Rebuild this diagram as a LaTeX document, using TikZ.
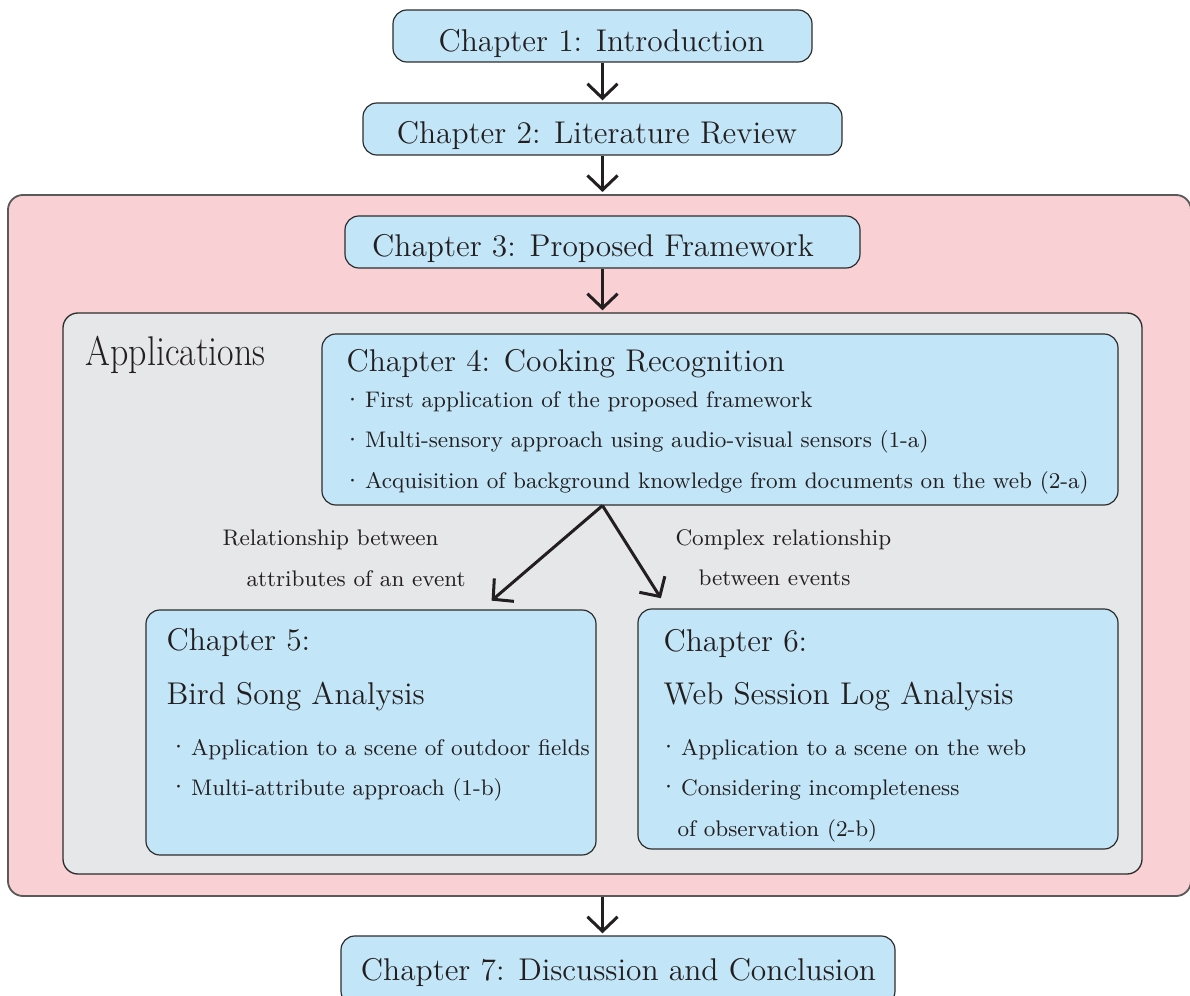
\documentclass[tikz,border=0pt]{standalone}
\usepackage{graphicx}
\usetikzlibrary{arrows.meta}
\definecolor{cbox}{RGB}{194,230,248}
\definecolor{cpink}{RGB}{249,208,211}
\definecolor{cgray}{RGB}{230,231,233}
\definecolor{cline}{RGB}{45,45,45}
\definecolor{cpline}{RGB}{90,90,90}
\definecolor{ctext}{RGB}{35,31,32}
\newcommand\bul{\raisebox{-0.6pt}{\fontsize{11}{11}\selectfont\textperiodcentered}\hspace{0.6pt}}
\begin{document}
\begin{tikzpicture}[x=0.3816pt,y=-0.3816pt,
  wh/.style 2 args={minimum width=#1*0.3816pt,minimum height=#2*0.3816pt},
  chap/.style={draw=cline,line width=0.45pt,fill=cbox,rounded corners=5.3pt,inner sep=0pt},
  ttl/.style={inner sep=0pt,text=ctext,font=\fontsize{12}{14}\selectfont},
  sml/.style={inner sep=0pt,text=ctext,font=\fontsize{8.6}{10}\selectfont},
  arr/.style={draw=ctext,line width=1.15pt,shorten >=0.8pt,-{Straight Barb[length=5.5pt,width=11.5pt]}}]
\useasboundingbox (0,0) rectangle (1190,996);
\clip (0,0) rectangle (1190,996);
% containers
\node[draw=cpline,line width=0.7pt,fill=cpink,rounded corners=5.7pt,inner sep=0pt,wh={1183}{701}] (pink) at (599.5,545.5) {};
\node[draw=cline,line width=0.5pt,fill=cgray,rounded corners=5.7pt,inner sep=0pt,wh={1079}{561}] (gray) at (602.5,593.5) {};
\node[inner sep=0pt,text=ctext,anchor=base west] (apps) at (85,366)
  {\resizebox{68.7pt}{11.2pt}{\fontsize{16.8}{20}\selectfont Applications}};
% chapter boxes
\node[chap,wh={419}{52}] (c1) at (602.5,36) {};
\node[ttl,anchor=base] (t1) at (601.5,52) {Chapter 1: Introduction};
\node[chap,wh={479}{52}] (c2) at (602.5,129) {};
\node[ttl,anchor=base] (t2) at (597,143.5) {Chapter 2: Literature Review};
\node[chap,wh={515}{52}] (c3) at (602.5,242) {};
\node[ttl,anchor=base] (t3) at (593,256.5) {Chapter 3: Proposed Framework};
\node[chap,wh={796}{171}] (c4) at (720,419.5) {};
\node[ttl,anchor=base west] (t4) at (346,371.5) {Chapter 4: Cooking Recognition};
\node[sml,anchor=base west] (b41) at (341,408) {\bul First application of the proposed framework};
\node[sml,anchor=base west] (b42) at (341,448) {\bul Multi-sensory approach using audio-visual sensors (1-a)};
\node[sml,anchor=base west] (b43) at (341,489) {\bul Acquisition of background knowledge from documents on the web (2-a)};
\node[chap,wh={450}{245}] (c5) at (371,732.5) {};
\node[ttl,anchor=base west] (t5a) at (166,650.5) {Chapter 5:};
\node[ttl,anchor=base west] (t5b) at (166,705) {Bird Song Analysis};
\node[sml,anchor=base west] (b51) at (167,755) {\bul Application to a scene of outdoor fields};
\node[sml,anchor=base west] (b52) at (167,795) {\bul Multi-attribute approach (1-b)};
\node[chap,wh={480}{240}] (c6) at (878,729) {};
\node[ttl,anchor=base west] (t6a) at (663,651.5) {Chapter 6:};
\node[ttl,anchor=base west] (t6b) at (663,705) {Web Session Log Analysis};
\node[sml,anchor=base west] (b61) at (657,755) {\bul Application to a scene on the web};
\node[sml,anchor=base west] (b62) at (657,795) {\bul Considering incompleteness};
\node[sml,anchor=base west] (b63) at (677,836.5) {of observation (2-b)};
\node[chap,wh={554}{69}] (c7) at (618,970.5) {};
\node[ttl,anchor=base] (t7) at (618.5,980) {Chapter 7: Discussion and Conclusion};
% edge labels
\node[sml,anchor=base west] (l1a) at (222,545) {Relationship between};
\node[sml,anchor=base west] (l1b) at (246,586.5) {attributes of an event};
\node[sml,anchor=base west] (l2a) at (675,545) {Complex relationship};
\node[sml,anchor=base west] (l2b) at (698,586) {between events};
% connectors
\coordinate (e5) at (490,602);
\coordinate (e6) at (662,600);
\draw[arr] (c1) -- (c2);
\draw[arr] (c2.south) -- (c2.south |- pink.north);
\draw[arr] (c3.south) -- (c3.south |- gray.north);
\draw[arr] (c1.south |- pink.south) -- (c1.south |- c7.north);
\draw[arr] (c1.south |- c4.south) -- (e5);
\draw[arr] (c1.south |- c4.south) -- (e6);
\end{tikzpicture}
\end{document}
